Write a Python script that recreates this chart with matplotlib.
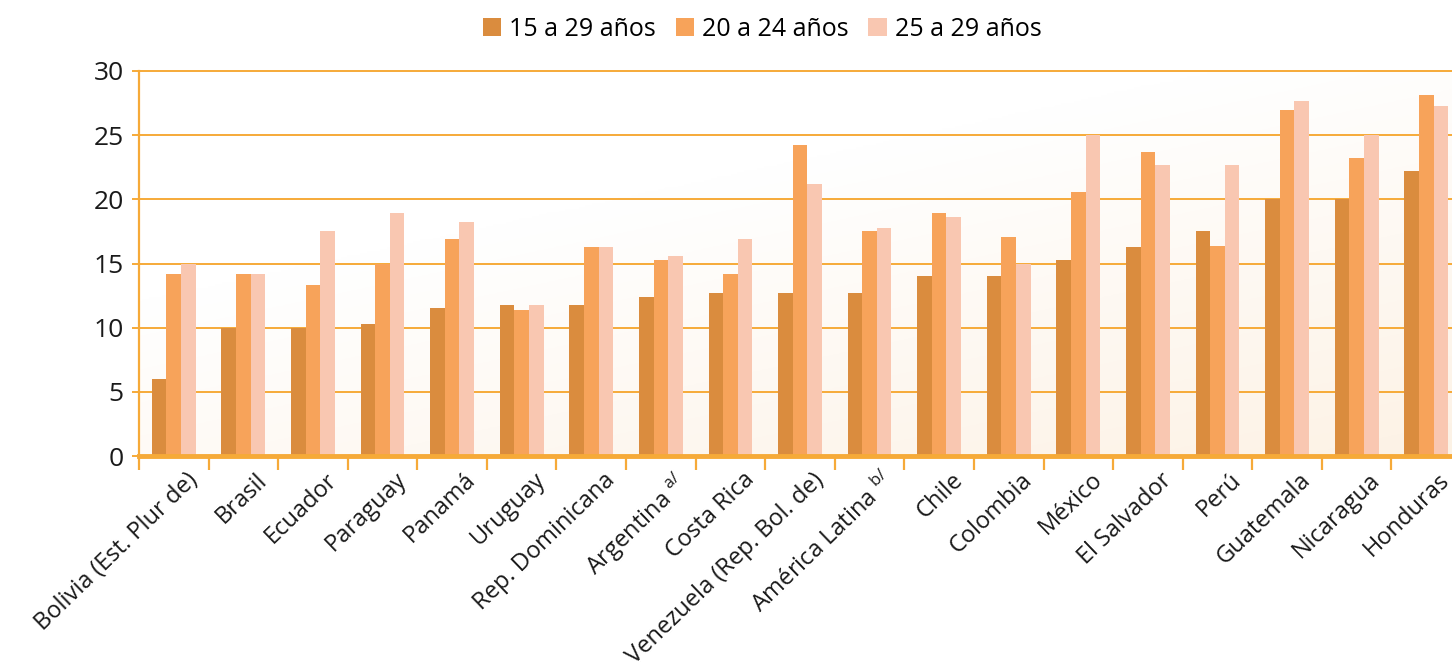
import matplotlib
matplotlib.use("Agg")
import matplotlib.pyplot as plt
import matplotlib.transforms as mtransforms
import numpy as np

categories = [
    "Bolivia (Est. Plur de)", "Brasil", "Ecuador", "Paraguay", "Panamá", "Uruguay",
    "Rep. Dominicana", r"Argentina $^{\mathregular{a/}}$", "Costa Rica",
    "Venezuela (Rep. Bol. de)", r"América Latina $^{\mathregular{b/}}$", "Chile",
    "Colombia", "México", "El Salvador", "Perú", "Guatemala", "Nicaragua", "Honduras",
]
series_names = ["15 a 29 años", "20 a 24 años", "25 a 29 años"]
s15_29 = [6.0, 10.0, 10.0, 10.3, 11.5, 11.8, 11.8, 12.4, 12.7, 12.7, 12.7, 14.0, 14.0, 15.3, 16.3, 17.5, 20.0, 20.0, 22.2]
s20_24 = [14.2, 14.2, 13.3, 15.0, 16.9, 11.4, 16.3, 15.3, 14.2, 24.2, 17.5, 18.9, 17.1, 20.6, 23.7, 16.4, 27.0, 23.2, 28.1]
s25_29 = [15.0, 14.2, 17.5, 18.9, 18.2, 11.8, 16.3, 15.6, 16.9, 21.2, 17.8, 18.6, 15.0, 25.0, 22.7, 22.7, 27.7, 25.0, 27.3]
yticks = [0, 5, 10, 15, 20, 25, 30]

colors = ["#DA8C3E", "#F7A35A", "#F9C7B1"]
orange = "#F6AA38"

plt.rcParams["font.family"] = ["Open Sans", "DejaVu Sans"]

W, H = 1452, 667
fig = plt.figure(figsize=(W / 100, H / 100), dpi=100)
ax = fig.add_axes([139 / W, (H - 456) / H, (1461 - 139) / W, (456 - 71) / H])

# subtle background gradient (white at top, faint peach toward bottom right)
gx, gy = np.meshgrid(np.linspace(0, 1, 200), np.linspace(0, 1, 200))
g = np.clip(gx * 0.55 + gy * 0.75 - 0.45, 0, 1)
base = np.array([1.0, 1.0, 1.0])
tint = np.array([0.99, 0.94, 0.88])
img = base[None, None, :] * (1 - g[..., None]) + tint[None, None, :] * g[..., None]
ax.imshow(img, extent=[0, 1, 0, 1], transform=ax.transAxes, aspect="auto", zorder=0, origin="upper")

x = np.arange(len(categories))
bw = 0.21
for i, (vals, c, name) in enumerate(zip([s15_29, s20_24, s25_29], colors, series_names)):
    ax.bar(x + (i - 1) * bw, vals, width=bw, color=c, label=name, zorder=3, linewidth=0)

ax.set_xlim(-0.5, len(categories) - 0.5)
ax.set_ylim(0, 30)
ax.set_yticks(yticks)
ax.set_yticklabels([str(v) for v in yticks], fontsize=19, color="#1a1a1a")
ax.yaxis.grid(True, color=orange, linewidth=1.4, zorder=1)
for gl in ax.get_ygridlines():
    gl.set_clip_on(False)
ax.set_axisbelow(True)

for s in ["top", "right"]:
    ax.spines[s].set_visible(False)
ax.spines["left"].set_color(orange)
ax.spines["left"].set_linewidth(1.6)
ax.spines["bottom"].set_color(orange)
ax.spines["bottom"].set_linewidth(3.5)
ax.spines["bottom"].set_zorder(4)
ax.tick_params(axis="y", length=5, width=1.4, color=orange, pad=6)

# category boundary ticks
ax.set_xticks(np.arange(len(categories) + 1) - 0.5, minor=False)
ax.set_xticklabels([])
ax.tick_params(axis="x", which="major", length=10, width=1.6, color=orange, direction="out")

offset = mtransforms.ScaledTranslation(12 / 100, -12 / 100, fig.dpi_scale_trans)
for xi, lab in zip(x, categories):
    ax.text(xi, 0, lab, rotation=44, ha="right", va="top", rotation_mode="anchor",
            fontsize=17, color="#1a1a1a",
            transform=mtransforms.blended_transform_factory(ax.transData, ax.transAxes) + offset)

leg = fig.legend(loc="center", bbox_to_anchor=(762 / W, 1 - 29 / H), ncol=3, frameon=False,
                 fontsize=18, handlelength=0.75, handleheight=0.75, handletextpad=0.3,
                 columnspacing=0.8)

fig.savefig("out.png", dpi=100)
